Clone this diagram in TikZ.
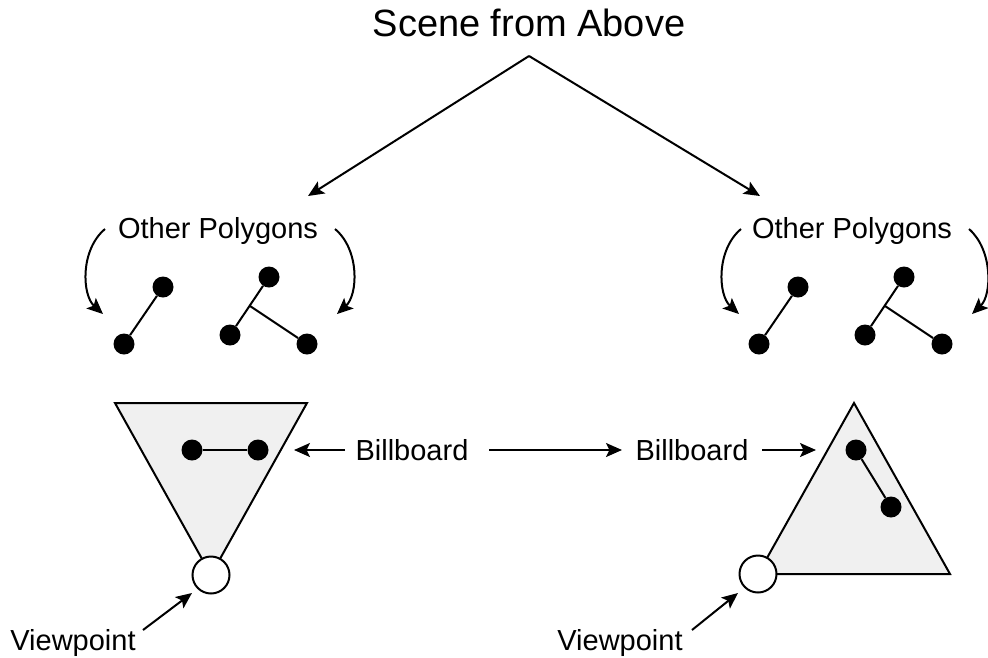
\documentclass[tikz,border=0pt]{standalone}
\usepackage{fontspec}
\setmainfont{Liberation Sans}
\usetikzlibrary{arrows.meta}
\definecolor{bbfill}{HTML}{F0F0F0}
\tikzset{
  lbl/.style={anchor=base, inner sep=0pt, font=\fontsize{29}{34}\selectfont},
  ttl/.style={anchor=base, inner sep=0pt, font=\fontsize{38}{44}\selectfont},
  dot/.style={circle, fill=black, draw=none, minimum size=21pt, inner sep=0pt},
  vp/.style={circle, fill=white, draw=black, line width=2pt, minimum size=37pt, inner sep=0pt},
  conn/.style={line width=2pt},
  arr/.style={line width=2pt, -{Stealth[length=16pt,width=14pt,inset=3.5pt]}},
  board/.style={fill=bbfill, draw=black, line width=2pt, line join=miter}
}
\begin{document}
\begin{tikzpicture}[x=1pt,y=-1pt]
\useasboundingbox (0,0) rectangle (988,657);
% title
\node[ttl] (title) at (529,36) {Scene from Above};
\coordinate (apex) at (529,56);
\coordinate (tipL) at (308,196);
\coordinate (tipR) at (760,196);
\draw[arr] (apex) -- (tipL);
\draw[arr] (apex) -- (tipR);

% Other polygons labels
\node[lbl] (opL) at (218,238) {Other Polygons};
\node[lbl] (opR) at (852,238) {Other Polygons};
\coordinate (cLa) at (105,229); \coordinate (cLb) at (103,314);
\coordinate (cLc) at (335,229); \coordinate (cLd) at (337,314);
\coordinate (cRa) at (741,229); \coordinate (cRb) at (739,314);
\coordinate (cRc) at (969,229); \coordinate (cRd) at (972,314);
\draw[arr] (cLa) .. controls (80,250) and (82,295) .. (cLb);
\draw[arr] (cLc) .. controls (360,250) and (358,295) .. (cLd);
\draw[arr] (cRa) .. controls (716,250) and (718,295) .. (cRb);
\draw[arr] (cRc) .. controls (993,250) and (992,295) .. (cRd);

% left polygons
\node[dot] (l1a) at (163,287) {};
\node[dot] (l1b) at (124,344) {};
\draw[conn] (l1a) -- (l1b);
\node[dot] (l2t) at (269,277) {};
\node[dot] (l2l) at (230,335) {};
\node[dot] (l2r) at (307,344) {};
\coordinate (l2j) at (250,306);
\draw[conn] (l2t) -- (l2l);
\draw[conn] (l2j) -- (l2r);

% right polygons
\node[dot] (r1a) at (798,287) {};
\node[dot] (r1b) at (759,344) {};
\draw[conn] (r1a) -- (r1b);
\node[dot] (r2t) at (904,277) {};
\node[dot] (r2l) at (865,335) {};
\node[dot] (r2r) at (942,344) {};
\coordinate (r2j) at (885,306);
\draw[conn] (r2t) -- (r2l);
\draw[conn] (r2j) -- (r2r);

% left billboard
\draw[board] (115,403) -- (307,403) -- (211,575) -- cycle;
\node[dot] (lb1) at (192,450) {};
\node[dot] (lb2) at (258,450) {};
\draw[conn] (lb1) -- (lb2);
\node[vp] (vpL) at (211,575) {};

% right billboard
\draw[board] (854,403) -- (950,574) -- (758,574) -- cycle;
\node[dot] (rb1) at (856,450) {};
\node[dot] (rb2) at (891,507) {};
\draw[conn] (rb1) -- (rb2);
\node[vp] (vpR) at (758,574) {};

% billboard labels
\node[lbl] (bbL) at (412,460) {Billboard};
\node[lbl] (bbR) at (692,460) {Billboard};
\coordinate (bbLt) at (294,450);
\coordinate (bbLs) at (345,450);
\coordinate (bbM1) at (489,450);
\coordinate (bbM2) at (622,450);
\coordinate (bbRs) at (762,450);
\coordinate (bbRt) at (816,450);
\draw[arr] (bbLs) -- (bbLt);
\draw[arr] (bbM1) -- (bbM2);
\draw[arr] (bbRs) -- (bbRt);

% viewpoint labels
\node[lbl] (vlL) at (73,650) {Viewpoint};
\node[lbl] (vlR) at (620,650) {Viewpoint};
\coordinate (vaL1) at (143,630); \coordinate (vaL2) at (192,593);
\coordinate (vaR1) at (692,630); \coordinate (vaR2) at (738,593);
\draw[arr] (vaL1) -- (vaL2);
\draw[arr] (vaR1) -- (vaR2);
\end{tikzpicture}
\end{document}
